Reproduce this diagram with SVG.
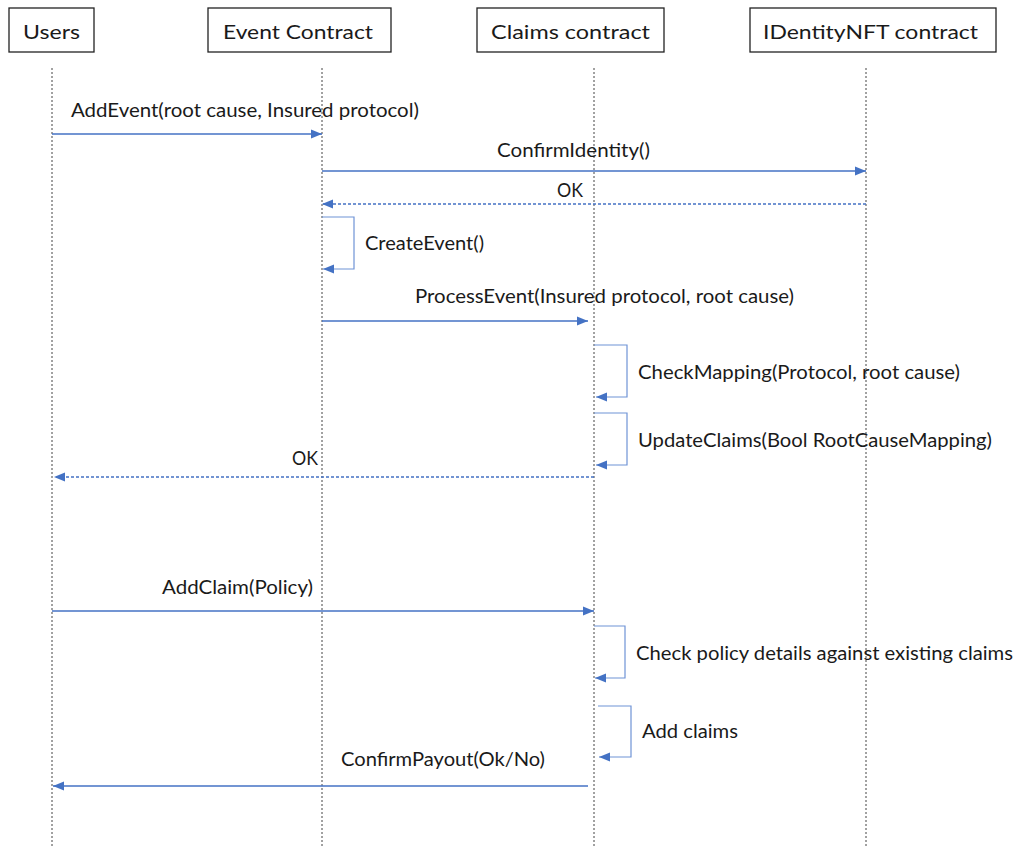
<svg xmlns="http://www.w3.org/2000/svg" width="1018" height="846" viewBox="0 0 1018 846">
<style>
.box{fill:#fff;stroke:#222;stroke-width:1.3}
.lbl{font-family:Lato,"Liberation Sans",sans-serif;font-size:19.5px;fill:#1a1a1a}
.life{stroke:#444;stroke-width:1;stroke-dasharray:2 2;fill:none}
.msg{stroke:#4472C4;stroke-width:1.3;fill:none}
.ret{stroke:#4472C4;stroke-width:1.3;fill:none;stroke-dasharray:3 2}
.loop{stroke:#6F93D6;stroke-width:1.2;fill:none}
</style>
<defs>
<marker id="ah" markerUnits="userSpaceOnUse" markerWidth="12" markerHeight="10" refX="11" refY="5" orient="auto">
<path d="M0,0.5 L11,5 L0,9.5 Z" fill="#4472C4"/>
</marker>
</defs>
<rect width="1018" height="846" fill="#fff"/>
<g id="lifelines">
<line class="life" x1="52" y1="68" x2="52" y2="846"/>
<line class="life" x1="322" y1="68" x2="322" y2="846"/>
<line class="life" x1="594" y1="68" x2="594" y2="846"/>
<line class="life" x1="866" y1="68" x2="866" y2="846"/>
</g>
<g id="users"><rect class="box" x="9" y="8" width="85" height="44"/><text class="lbl" x="23" y="39" textLength="57" lengthAdjust="spacingAndGlyphs">Users</text></g>
<g id="event-contract"><rect class="box" x="208" y="8" width="183" height="44"/><text class="lbl" x="223" y="39" textLength="150" lengthAdjust="spacingAndGlyphs">Event Contract</text></g>
<g id="claims-contract"><rect class="box" x="477" y="8" width="187" height="44"/><text class="lbl" x="491" y="39" textLength="159" lengthAdjust="spacingAndGlyphs">Claims contract</text></g>
<g id="identitynft-contract"><rect class="box" x="750" y="8" width="246" height="44"/><text class="lbl" x="763" y="39" textLength="215" lengthAdjust="spacingAndGlyphs">IDentityNFT contract</text></g>
<g id="connectors">
<line class="msg" x1="52" y1="134" x2="322" y2="134" marker-end="url(#ah)"/>
<line class="msg" x1="322" y1="171" x2="866" y2="171" marker-end="url(#ah)"/>
<line class="ret" x1="866" y1="204" x2="322" y2="204" marker-end="url(#ah)"/>
<path class="loop" d="M322,217 H354 V269 H323" marker-end="url(#ah)"/>
<line class="msg" x1="322" y1="321" x2="588" y2="321" marker-end="url(#ah)"/>
<path class="loop" d="M594,345 H627 V397 H596" marker-end="url(#ah)"/>
<path class="loop" d="M594,413 H627 V465 H596" marker-end="url(#ah)"/>
<line class="ret" x1="594" y1="477" x2="54" y2="477" marker-end="url(#ah)"/>
<line class="msg" x1="52" y1="611" x2="594" y2="611" marker-end="url(#ah)"/>
<path class="loop" d="M594,626 H625 V678 H595" marker-end="url(#ah)"/>
<path class="loop" d="M598,706 H631 V757 H599" marker-end="url(#ah)"/>
<line class="msg" x1="588" y1="786" x2="53" y2="786" marker-end="url(#ah)"/>
</g>
<g id="labels">
<text class="lbl" x="71" y="117" textLength="348" lengthAdjust="spacingAndGlyphs">AddEvent(root cause, Insured protocol)</text>
<text class="lbl" x="497" y="157" textLength="153" lengthAdjust="spacingAndGlyphs">ConfirmIdentity()</text>
<text class="lbl" x="557" y="197" textLength="26" lengthAdjust="spacingAndGlyphs">OK</text>
<text class="lbl" x="365" y="250" textLength="119" lengthAdjust="spacingAndGlyphs">CreateEvent()</text>
<text class="lbl" x="415" y="303" textLength="379" lengthAdjust="spacingAndGlyphs">ProcessEvent(Insured protocol, root cause)</text>
<text class="lbl" x="638" y="379" textLength="322" lengthAdjust="spacingAndGlyphs">CheckMapping(Protocol, root cause)</text>
<text class="lbl" x="638" y="447" textLength="354" lengthAdjust="spacingAndGlyphs">UpdateClaims(Bool RootCauseMapping)</text>
<text class="lbl" x="292" y="465" textLength="26" lengthAdjust="spacingAndGlyphs">OK</text>
<text class="lbl" x="162" y="594" textLength="151" lengthAdjust="spacingAndGlyphs">AddClaim(Policy)</text>
<text class="lbl" x="636" y="660" textLength="377" lengthAdjust="spacingAndGlyphs">Check policy details against existing claims</text>
<text class="lbl" x="642" y="738" textLength="96" lengthAdjust="spacingAndGlyphs">Add claims</text>
<text class="lbl" x="341" y="766" textLength="204" lengthAdjust="spacingAndGlyphs">ConfirmPayout(Ok/No)</text>
</g>
</svg>
